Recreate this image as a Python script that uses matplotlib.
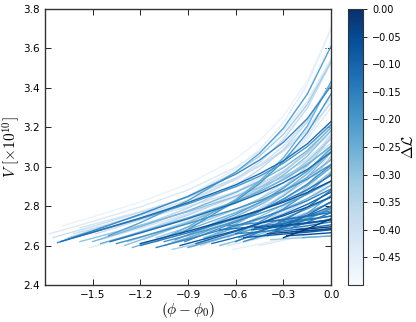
import matplotlib
matplotlib.use("Agg")
import matplotlib.pyplot as plt
import numpy as np

plt.rcParams['mathtext.fontset'] = 'cm'
plt.rcParams['font.family'] = 'DejaVu Sans'

# common phi-phi0 grid; each curve lists V at the last len(vals) grid points
grid_x = [-1.5, -1.2, -0.9, -0.6, -0.45, -0.3, -0.15, 0.0]

# start of each trajectory (phi-phi0, V)
start_x = [-1.69, -1.77, -1.62, -1.55, -1.48, -1.42, -1.35, -1.65, -1.05, -1.20, -1.58,
           -1.40, -1.72, -1.10, -0.95,
           -1.70, -1.59, -1.30, -1.00, -0.85, -1.50, -1.15, -0.70, -1.62, -1.35,
           -1.39, -1.67, -1.52, -1.25, -1.20, -1.05, -0.95, -0.80, -1.45, -0.60, -1.35, -0.75, -1.10, -0.65, -0.90,
           -1.45, -1.28, -0.98, -0.88, -1.18, -0.78, -1.58, -0.68, -1.32, -0.92, -0.52, -0.45, -0.40, -1.75,
           -1.12, -0.60, -0.82, -0.35, -0.30, -0.25,
           -1.10, -0.90, -0.85, -0.70, -1.00, -0.65, -0.55, -0.80, -0.95, -0.50, -0.62, -0.45, -1.20, -0.75, -0.58, -1.05,
           -0.55, -0.40, -0.35, -0.50, -0.28, -0.60, -0.30, -0.22, -0.42, -0.65, -0.18, -0.38, -0.48, -0.33, -0.70, -0.25]
start_v = [2.70, 2.66, 2.66, 2.67, 2.66, 2.65, 2.66, 2.64, 2.70, 2.68, 2.69,
           2.65, 2.615, 2.62, 2.66,
           2.62, 2.67, 2.60, 2.62, 2.60, 2.62, 2.64, 2.66, 2.64, 2.63,
           2.62, 2.635, 2.59, 2.59, 2.60, 2.60, 2.62, 2.63, 2.63, 2.66, 2.61, 2.62, 2.64, 2.64, 2.65,
           2.61, 2.62, 2.63, 2.64, 2.63, 2.64, 2.62, 2.67, 2.64, 2.62, 2.66, 2.68, 2.65, 2.64,
           2.66, 2.62, 2.60, 2.68, 2.64, 2.69,
           2.59, 2.59, 2.61, 2.60, 2.58, 2.60, 2.62, 2.64, 2.60, 2.63, 2.58, 2.60, 2.61, 2.61, 2.64, 2.62,
           2.64, 2.66, 2.67, 2.68, 2.65, 2.66, 2.70, 2.68, 2.72, 2.70, 2.64, 2.63, 2.69, 2.72, 2.68, 2.67]

# V [x1e10] along each trajectory, read at the grid points after its start
curve_v = [
    # upper, light
    [2.745, 2.821, 2.912, 3.040, 3.132, 3.258, 3.437, 3.698],
    [2.722, 2.796, 2.882, 2.997, 3.077, 3.184, 3.333, 3.547],
    [2.685, 2.753, 2.831, 2.935, 3.007, 3.104, 3.238, 3.430],
    [2.682, 2.759, 2.853, 2.988, 3.087, 3.223, 3.418, 3.704],
    [2.730, 2.818, 2.938, 3.023, 3.137, 3.297, 3.529],
    [2.699, 2.775, 2.874, 2.942, 3.031, 3.154, 3.328],
    [2.700, 2.790, 2.906, 2.985, 3.087, 3.227, 3.426],
    [2.678, 2.758, 2.850, 2.971, 3.054, 3.164, 3.316, 3.533],
    [2.765, 2.919, 3.018, 3.145, 3.313, 3.547],
    [2.795, 2.945, 3.049, 3.186, 3.374, 3.643],
    [2.707, 2.772, 2.846, 2.941, 3.004, 3.085, 3.196, 3.353],
    # steep, darker
    [2.716, 2.828, 2.973, 3.068, 3.196, 3.368, 3.612],
    [2.674, 2.758, 2.849, 2.962, 3.034, 3.124, 3.244, 3.410],
    [2.695, 2.834, 2.926, 3.045, 3.206, 3.432],
    [2.682, 2.826, 2.915, 3.028, 3.172, 3.370],
    # fan ending near 3.2
    [2.667, 2.740, 2.818, 2.908, 2.964, 3.030, 3.116, 3.230],
    [2.688, 2.751, 2.819, 2.896, 2.943, 3.000, 3.071, 3.166],
    [2.628, 2.716, 2.818, 2.881, 2.957, 3.054, 3.183],
    [2.654, 2.769, 2.837, 2.919, 3.022, 3.158],
    [2.711, 2.790, 2.886, 3.006, 3.166],
    [2.696, 2.776, 2.870, 2.927, 2.995, 3.082, 3.198],
    [2.719, 2.827, 2.893, 2.972, 3.072, 3.204],
    [2.708, 2.789, 2.885, 3.008, 3.168],
    [2.667, 2.736, 2.811, 2.899, 2.952, 3.018, 3.102, 3.214],
    [2.670, 2.754, 2.851, 2.908, 2.979, 3.067, 3.184],
    # middle
    [2.664, 2.736, 2.817, 2.864, 2.919, 2.986, 3.074],
    [2.670, 2.732, 2.798, 2.873, 2.917, 2.969, 3.034, 3.118],
    [2.594, 2.662, 2.734, 2.815, 2.862, 2.917, 2.985, 3.072],
    [2.603, 2.681, 2.767, 2.817, 2.875, 2.946, 3.036],
    [2.665, 2.737, 2.778, 2.826, 2.883, 2.957],
    [2.640, 2.726, 2.776, 2.835, 2.905, 2.996],
    [2.635, 2.730, 2.786, 2.852, 2.932, 3.037],
    [2.693, 2.746, 2.807, 2.881, 2.974],
    [2.688, 2.762, 2.847, 2.899, 2.962, 3.041, 3.146],
    [2.719, 2.786, 2.866, 2.965],
    [2.643, 2.711, 2.786, 2.828, 2.878, 2.937, 3.012],
    [2.666, 2.716, 2.773, 2.840, 2.922],
    [2.693, 2.783, 2.836, 2.899, 2.976, 3.077],
    [2.660, 2.723, 2.798, 2.889, 3.007],
    [2.747, 2.805, 2.875, 2.964, 3.080],
    [2.668, 2.741, 2.824, 2.874, 2.934, 3.009, 3.107],
    [2.640, 2.721, 2.815, 2.871, 2.940, 3.027, 3.142],
    [2.655, 2.758, 2.819, 2.891, 2.979, 3.093],
    [2.744, 2.813, 2.896, 3.003, 3.146],
    [2.714, 2.822, 2.889, 2.972, 3.081, 3.228],
    [2.709, 2.775, 2.852, 2.948, 3.073],
    [2.637, 2.703, 2.772, 2.850, 2.895, 2.949, 3.014, 3.101],
    [2.705, 2.776, 2.861, 2.967, 3.106],
    [2.672, 2.758, 2.864, 2.933, 3.021, 3.138, 3.300],
    [2.626, 2.719, 2.773, 2.836, 2.912, 3.009],
    [2.696, 2.785, 2.899, 3.053],
    [2.777, 2.903, 3.074],
    [2.691, 2.764, 2.855],
    [2.697, 2.768, 2.846, 2.941, 3.002, 3.080, 3.182, 3.323],
    [2.730, 2.847, 2.924, 3.022, 3.153, 3.337],
    [2.669, 2.726, 2.794, 2.881],
    [2.663, 2.710, 2.764, 2.827, 2.907],
    [2.697, 2.753, 2.822],
    [2.684, 2.736],
    [2.718, 2.767],
    # lower
    [2.632, 2.700, 2.738, 2.780, 2.828, 2.887],
    [2.658, 2.695, 2.737, 2.786, 2.845],
    [2.672, 2.712, 2.757, 2.809, 2.871],
    [2.623, 2.658, 2.697, 2.741, 2.793],
    [2.599, 2.659, 2.692, 2.727, 2.768, 2.817],
    [2.609, 2.636, 2.666, 2.700, 2.741],
    [2.646, 2.688, 2.735, 2.789],
    [2.691, 2.734, 2.782, 2.838, 2.907],
    [2.611, 2.676, 2.712, 2.751, 2.795, 2.847],
    [2.643, 2.685, 2.732, 2.787],
    [2.583, 2.608, 2.635, 2.665, 2.701],
    [2.627, 2.656, 2.690],
    [2.673, 2.741, 2.778, 2.820, 2.869, 2.928],
    [2.641, 2.673, 2.709, 2.750, 2.799],
    [2.673, 2.715, 2.763, 2.822],
    [2.652, 2.722, 2.762, 2.806, 2.860, 2.926],
    # short, nearly flat, dark
    [2.648, 2.658, 2.668, 2.680],
    [2.666, 2.675, 2.686],
    [2.674, 2.688, 2.705],
    [2.684, 2.697, 2.713, 2.732],
    [2.656, 2.665],
    [2.669, 2.683, 2.700, 2.720],
    [2.712, 2.728],
    [2.684, 2.695],
    [2.731, 2.748, 2.768],
    [2.704, 2.716, 2.732, 2.752, 2.776],
    [2.642, 2.648],
    [2.634, 2.641, 2.650],
    [2.692, 2.703, 2.716, 2.731],
    [2.722, 2.734, 2.749],
    [2.687, 2.698, 2.712, 2.729, 2.750],
    [2.675, 2.683],
]

# Delta L of each trajectory (line colour)
delta_l = [-0.47, -0.43, -0.40, -0.45, -0.38, -0.43, -0.36, -0.33, -0.46, -0.48, -0.41,
           -0.22, -0.17, -0.25, -0.20,
           -0.12, -0.45, -0.29, -0.38, -0.42, -0.27, -0.33, -0.47, -0.20, -0.36,
           -0.12, -0.40, -0.44, -0.26, -0.14, -0.24, -0.35, -0.30, -0.41, -0.20, -0.19, -0.45, -0.31, -0.38, -0.28,
           -0.25, -0.32, -0.22, -0.35, -0.40, -0.27, -0.30, -0.37, -0.44, -0.18, -0.34, -0.45, -0.24, -0.39,
           -0.46, -0.14, -0.36, -0.11, -0.02, -0.14,
           -0.16, -0.22, -0.10, -0.28, -0.33, -0.42, -0.18, -0.26, -0.08, -0.30, -0.46, -0.44, -0.06, -0.12, -0.23, -0.20,
           -0.08, -0.05, -0.12, -0.10, -0.06, -0.15, -0.20, -0.03, -0.12, -0.18, -0.25, -0.32, -0.07, -0.16, -0.13, -0.09]

fig = plt.figure(figsize=(4.16, 3.22), dpi=100)
ax = fig.add_axes([0.108, 0.115, 0.688, 0.857])
cax = fig.add_axes([0.837, 0.115, 0.036, 0.857])

cmap = plt.get_cmap('Blues')
norm = matplotlib.colors.Normalize(vmin=-0.5, vmax=0.0)
gx = np.array(grid_x)

# light ones first, darker lines drawn on top
order = np.argsort(delta_l)
for i in order:
    vals = curve_v[i]
    xs = [start_x[i]] + list(gx[-len(vals):])
    ys = [start_v[i]] + vals
    ax.plot(xs, ys, color=cmap(norm(delta_l[i])), lw=1.0)

ax.set_xlim(-1.8, 0.0)
ax.set_ylim(2.4, 3.8)
ax.set_xticks([-1.5, -1.2, -0.9, -0.6, -0.3, 0.0])
ax.set_yticks(np.arange(2.4, 3.81, 0.2))
ax.tick_params(direction='in', top=True, right=True, labelsize=7.5, length=4, width=0.6)
for s in ax.spines.values():
    s.set_linewidth(1.0)
    s.set_color('#333333')
ax.set_xlabel(r'$(\phi - \phi_0)$', fontsize=11, labelpad=0)
ax.set_ylabel(r'$V\ [\times 10^{10}]$', fontsize=11, labelpad=1)

sm = matplotlib.cm.ScalarMappable(norm=norm, cmap=cmap)
cb = fig.colorbar(sm, cax=cax, ticks=np.arange(0.0, -0.46, -0.05))
cb.ax.tick_params(labelsize=7, length=3, width=0.6)
cb.outline.set_edgecolor('#333333')
cb.set_label(r'$\Delta\mathcal{L}$', fontsize=11, labelpad=-1)

fig.savefig('out.png', dpi=100)
